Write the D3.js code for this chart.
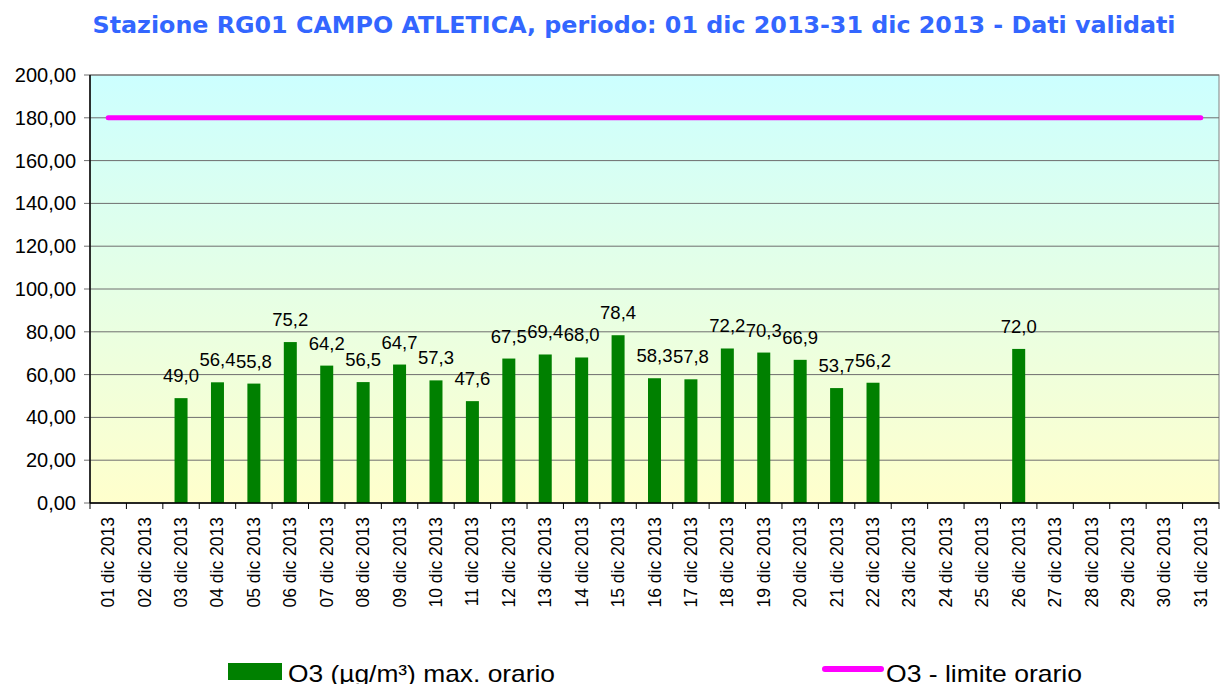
<!DOCTYPE html>
<html>
<head>
<meta charset="utf-8">
<script src="https://cdn.jsdelivr.net/npm/d3@7"></script>
<style>
body { margin: 0; background: #fff; }
svg { font-family: Arial, "Liberation Sans", sans-serif; }
</style>
</head>
<body>
<svg width="1223" height="684"></svg>
<script>
// dati
var days = [];
for (var i = 1; i <= 31; i++) days.push((i < 10 ? "0" + i : "" + i) + " dic 2013");
var o3Max = [null, null, 49.0, 56.4, 55.8, 75.2, 64.2, 56.5, 64.7, 57.3, 47.6, 67.5, 69.4, 68.0, 78.4,
    58.3, 57.8, 72.2, 70.3, 66.9, 53.7, 56.2, null, null, null, 72.0, null, null, null, null, null];
var limite = 180;
var yTicks = [0, 20, 40, 60, 80, 100, 120, 140, 160, 180, 200];

var svg = d3.select("svg");
var pLeft = 90, pRight = 1219, pTop = 75, pBottom = 503;

var xScale = d3.scaleBand().domain(days).range([pLeft, pRight]);
var yScale = d3.scaleLinear().domain([0, 200]).range([pBottom, pTop]);
var fmt = function (v, d) { return v.toFixed(d).replace(".", ","); };
var cx = function (d) { return xScale(d) + xScale.bandwidth() / 2; };

var grad = svg.append("defs").append("linearGradient").attr("id", "bg")
    .attr("x1", 0).attr("y1", 0).attr("x2", 0).attr("y2", 1);
grad.append("stop").attr("offset", "0%").attr("stop-color", "#ccffff");
grad.append("stop").attr("offset", "100%").attr("stop-color", "#ffffcc");

svg.append("rect").attr("x", pLeft).attr("y", pTop).attr("width", pRight - pLeft).attr("height", pBottom - pTop)
    .attr("fill", "url(#bg)").attr("stroke", "#808080");

// griglia
svg.append("g").selectAll("line").data(yTicks).enter().append("line")
    .attr("x1", pLeft - 6).attr("x2", pRight).attr("y1", d => yScale(d)).attr("y2", d => yScale(d))
    .attr("stroke", "#6e6e6e").attr("stroke-width", 1);

svg.append("g").selectAll("text").data(yTicks).enter().append("text")
    .attr("x", pLeft - 14).attr("y", d => yScale(d) + 7).attr("text-anchor", "end")
    .attr("font-size", 20).attr("fill", "#000").text(d => fmt(d, 2));

// barre
var bw = 13;
var present = days.map((d, i) => ({ day: d, v: o3Max[i] })).filter(d => d.v != null);
svg.append("g").selectAll("rect").data(present).enter().append("rect")
    .attr("x", d => cx(d.day) - bw / 2)
    .attr("y", d => yScale(d.v)).attr("width", bw).attr("height", d => pBottom - yScale(d.v))
    .attr("fill", "#008000");

svg.append("g").selectAll("text").data(present).enter().append("text")
    .attr("x", d => cx(d.day))
    .attr("y", d => yScale(d.v) - 16).attr("text-anchor", "middle")
    .attr("font-size", 18.5).attr("fill", "#000").text(d => fmt(d.v, 1));

// limite
svg.append("line")
    .attr("x1", cx(days[0])).attr("x2", cx(days[30]))
    .attr("y1", yScale(limite)).attr("y2", yScale(limite))
    .attr("stroke", "#ff00ff").attr("stroke-width", 5).attr("stroke-linecap", "round");

// assi
svg.append("line").attr("x1", pLeft).attr("x2", pLeft).attr("y1", pTop).attr("y2", pBottom)
    .attr("stroke", "#000").attr("stroke-width", 1.5);
svg.append("line").attr("x1", pLeft).attr("x2", pRight).attr("y1", pBottom).attr("y2", pBottom)
    .attr("stroke", "#000").attr("stroke-width", 1.5);
var xt = days.map(d => xScale(d)).concat([pRight]);
svg.append("g").selectAll("line").data(xt).enter().append("line")
    .attr("x1", d => d).attr("x2", d => d).attr("y1", pBottom).attr("y2", pBottom + 6)
    .attr("stroke", "#000");

svg.append("g").selectAll("text").data(days).enter().append("text")
    .attr("transform", d => "translate(" + (cx(d) + 6) + "," + (pBottom + 14) + ") rotate(-90)")
    .attr("text-anchor", "end").attr("font-size", 17.5).attr("fill", "#000").text(d => d);

// titolo
svg.append("text").attr("x", 634).attr("y", 33).attr("text-anchor", "middle")
    .style("font-family", "'DejaVu Sans', Verdana, sans-serif").attr("font-weight", "bold")
    .attr("font-size", 23).attr("fill", "#3366ff")
    .attr("textLength", 1083).attr("lengthAdjust", "spacingAndGlyphs")
    .text("Stazione RG01 CAMPO ATLETICA, periodo: 01 dic 2013-31 dic 2013 - Dati validati");

// legenda
svg.append("rect").attr("x", 228).attr("y", 663).attr("width", 54).attr("height", 17).attr("fill", "#008000");
svg.append("text").attr("x", 288).attr("y", 682).attr("font-size", 24)
    .attr("textLength", 267).attr("lengthAdjust", "spacingAndGlyphs").text("O3 (µg/m³) max. orario");
svg.append("line").attr("x1", 825).attr("x2", 881).attr("y1", 669).attr("y2", 669)
    .attr("stroke", "#ff00ff").attr("stroke-width", 6).attr("stroke-linecap", "round");
svg.append("text").attr("x", 886).attr("y", 682).attr("font-size", 24)
    .attr("textLength", 196).attr("lengthAdjust", "spacingAndGlyphs").text("O3 - limite orario");
</script>
</body>
</html>
